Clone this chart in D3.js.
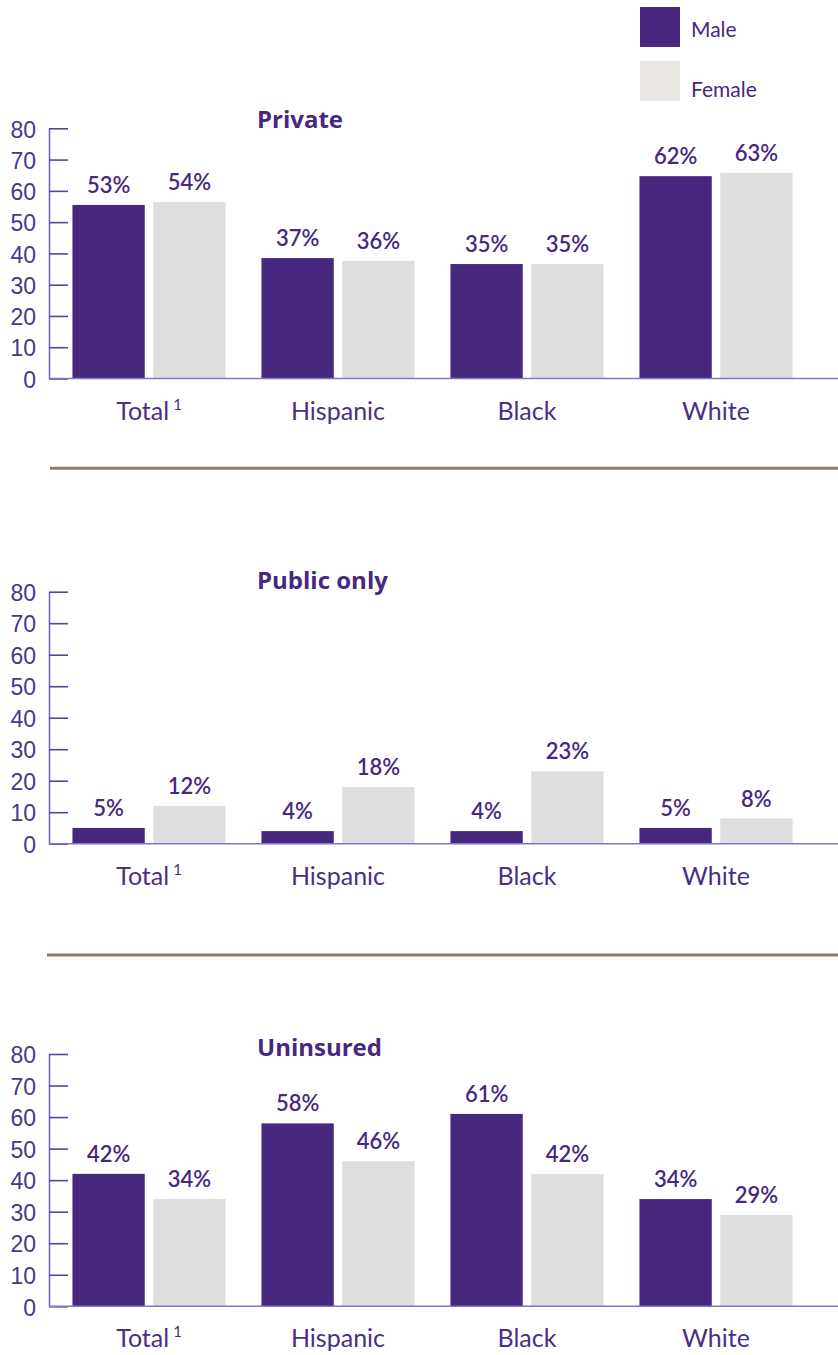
<!DOCTYPE html>
<html>
<head>
<meta charset="utf-8">
<script src="https://cdn.jsdelivr.net/npm/d3@7"></script>
<style>
  html, body { margin: 0; padding: 0; background: #fff; }
  svg { display: block; }
</style>
</head>
<body>
<div id="chart"></div>
<script>
// Categories and series
const categories = ["Total", "Hispanic", "Black", "White"];
const series = ["Male", "Female"];
const panelTitles = ["Private", "Public only", "Uninsured"];
const yTicks = [0, 10, 20, 30, 40, 50, 60, 70, 80];

// Printed percentages
const privateMale = [53, 37, 35, 62];
const privateFemale = [54, 36, 35, 63];
const publicMale = [5, 4, 4, 5];
const publicFemale = [12, 18, 23, 8];
const uninsuredMale = [42, 58, 61, 34];
const uninsuredFemale = [34, 46, 42, 29];

// In the source the "Private" bars stand a little taller than their printed labels
const privateMaleBar = [55.5, 38.5, 36.6, 64.7];
const privateFemaleBar = [56.4, 37.6, 36.6, 65.7];

const W = 838, H = 1355;
const purple = '#47287f';
const female = '#dedede';

const panels = [
    { title: panelTitles[0], top: 128.3, base: 378.5, titleY: 127.5,
      bars: [privateMaleBar, privateFemaleBar], labels: [privateMale, privateFemale] },
    { title: panelTitles[1], top: 591.7, base: 843.7, titleY: 589.3,
      bars: [publicMale, publicFemale], labels: [publicMale, publicFemale] },
    { title: panelTitles[2], top: 1054, base: 1306.3, titleY: 1055.7,
      bars: [uninsuredMale, uninsuredFemale], labels: [uninsuredMale, uninsuredFemale] }
];

const svg = d3.select('#chart').append('svg')
    .attr('width', W)
    .attr('height', H);

const axisX = 49;

const x0 = d3.scaleBand()
    .domain(categories)
    .range([54.5, 810.5])
    .paddingInner(0.19)
    .paddingOuter(0.095);

const x1 = d3.scaleBand()
    .domain(series)
    .range([0, x0.bandwidth()])
    .paddingInner(0.105);

const color = d3.scaleOrdinal().domain(series).range([purple, female]);

panels.forEach(p => {
    const y = d3.scaleLinear().domain([0, 80]).range([p.base, p.top]);
    const g = svg.append('g');

    // y axis, ticks point inward
    const yAxis = d3.axisLeft(y)
        .tickValues(yTicks)
        .tickSizeInner(-19)
        .tickSizeOuter(0)
        .tickPadding(13);

    const ag = g.append('g')
        .attr('transform', `translate(${axisX},0)`)
        .call(yAxis);
    ag.select('.domain').attr('stroke', '#7a63b4').attr('stroke-width', 1.6);
    ag.selectAll('.tick line').attr('stroke', '#5a42a0').attr('stroke-width', 1.6);
    ag.selectAll('.tick text')
        .attr('fill', '#4a3789')
        .style('font-family', '"Liberation Sans", Arial, sans-serif')
        .style('font-size', '23px')
        .attr('dy', '0.38em');

    // bars
    const rows = categories.map((c, i) => ({
        cat: c,
        vals: series.map((s, j) => ({ s, v: p.bars[j][i], lab: p.labels[j][i] }))
    }));

    const grp = g.selectAll('.grp')
        .data(rows)
        .enter().append('g')
        .attr('transform', d => `translate(${x0(d.cat)},0)`);

    grp.selectAll('rect')
        .data(d => d.vals)
        .enter().append('rect')
        .attr('x', d => x1(d.s))
        .attr('width', x1.bandwidth())
        .attr('y', d => y(d.v))
        .attr('height', d => y(0) - y(d.v))
        .attr('fill', d => color(d.s));

    grp.selectAll('text.val')
        .data(d => d.vals)
        .enter().append('text')
        .attr('class', 'val')
        .attr('x', d => x1(d.s) + x1.bandwidth() / 2)
        .attr('y', d => y(d.v) - 12)
        .attr('text-anchor', 'middle')
        .attr('fill', purple)
        .style('font-family', 'Lato, sans-serif')
        .style('font-weight', 600)
        .style('font-size', '22px')
        .text(d => d.lab + '%');

    // baseline
    g.append('line')
        .attr('x1', axisX).attr('x2', W)
        .attr('y1', y(0)).attr('y2', y(0))
        .attr('stroke', '#8773c0')
        .attr('stroke-width', 1.6);

    // category labels
    const cl = g.selectAll('text.cat')
        .data(categories)
        .enter().append('text')
        .attr('class', 'cat')
        .attr('x', d => x0(d) + x0.bandwidth() / 2)
        .attr('y', p.base + 41)
        .attr('text-anchor', 'middle')
        .attr('fill', '#4a2f87')
        .style('font-family', 'Lato, sans-serif')
        .style('font-size', '25px');
    cl.append('tspan').text(d => d);
    cl.filter(d => d === 'Total').append('tspan')
        .attr('dx', 4)
        .attr('dy', -10)
        .style('font-size', '15px')
        .text('1');

    // panel title
    g.append('text')
        .attr('x', 257)
        .attr('y', p.titleY)
        .attr('fill', purple)
        .style('font-family', '"Open Sans", sans-serif')
        .style('font-weight', 700)
        .style('font-size', '24px')
        .text(p.title);
});

// separators
[[50, 468.3], [47, 955]].forEach(([x, yy]) => {
    svg.append('line')
        .attr('x1', x).attr('x2', W)
        .attr('y1', yy).attr('y2', yy)
        .attr('stroke', '#8c7c6b')
        .attr('stroke-width', 3);
});

// legend
const legend = svg.append('g');
const legendColors = [purple, '#ebe8e4'];
const legendY = [7, 61];
const legendTextY = [37, 97];
series.forEach((s, i) => {
    legend.append('rect')
        .attr('x', 640).attr('y', legendY[i])
        .attr('width', 40).attr('height', 40)
        .attr('fill', legendColors[i]);
    legend.append('text')
        .attr('x', 691).attr('y', legendTextY[i])
        .attr('fill', purple)
        .style('font-family', 'Lato, sans-serif')
        .style('font-size', '21px')
        .text(s);
});
</script>
</body>
</html>
